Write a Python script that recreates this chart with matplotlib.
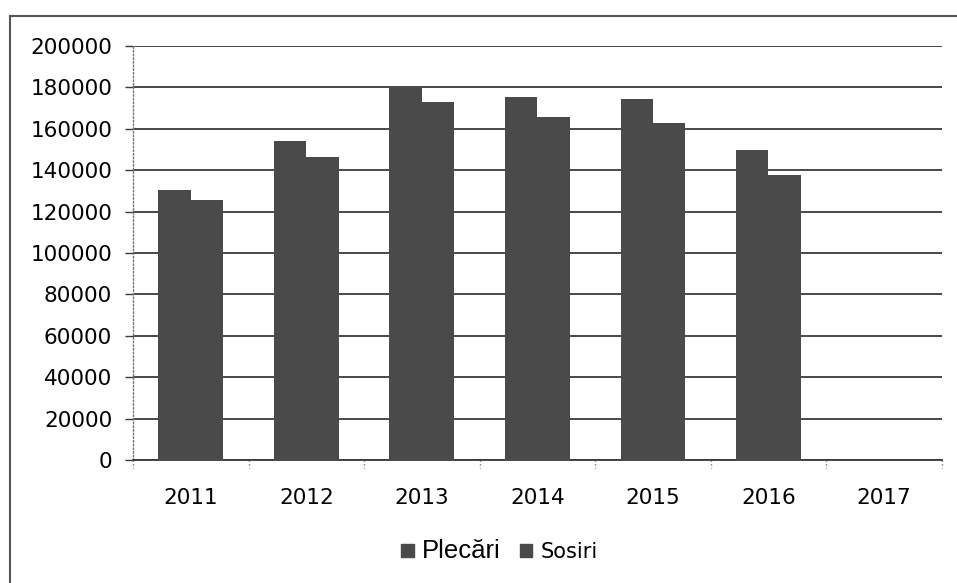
import numpy as np
import matplotlib.pyplot as plt
from matplotlib.lines import Line2D
from matplotlib.patches import Patch

years = ["2011", "2012", "2013", "2014", "2015", "2016", "2017"]
plecari = [130500, 154000, 180000, 175500, 174500, 150000, np.nan]
sosiri = [125500, 146500, 173000, 165500, 163000, 137500, np.nan]

bar_color = "#4a4a4a"
grid_color = "#3a3a3a"

fig = plt.figure(figsize=(9.57, 5.83), dpi=100)
ax = fig.add_axes([0.139, 0.211, 0.845, 0.710])

x = np.arange(len(years))
w = 0.28
ax.bar(x - w / 2, plecari, w, color=bar_color, zorder=3)
ax.bar(x + w / 2, sosiri, w, color=bar_color, zorder=3)

ax.set_xlim(-0.5, len(years) - 0.5)
ax.set_ylim(0, 200000)
ax.set_yticks(np.arange(0, 200001, 20000))
ax.set_xticks(x)
ax.set_xticklabels(years)

# gridlines reach a little left of the axis, like the tick marks
ax.yaxis.grid(True, color=grid_color, linewidth=1.3, zorder=0)
ax.tick_params(axis="y", length=6, width=1.0, color=grid_color, labelsize=15.5, pad=9)
ax.tick_params(axis="x", length=0, labelsize=15.5, pad=20)

# category boundary ticks on the x axis
for b in np.arange(-0.5, len(years), 1.0):
    ax.plot([b, b], [0, -0.02], transform=ax.get_xaxis_transform(), color="#777777",
            linewidth=1, linestyle=":", clip_on=False)

for side in ["top", "right"]:
    ax.spines[side].set_visible(False)
ax.spines["left"].set_color("#777777")
ax.spines["left"].set_linestyle(":")
ax.spines["left"].set_linewidth(1.0)
ax.spines["bottom"].set_color(grid_color)
ax.spines["bottom"].set_linewidth(1.3)

# legend
handles = [Patch(color=bar_color), Patch(color=bar_color)]
leg = fig.legend(handles, ["Plecări", "Sosiri"], loc="center", bbox_to_anchor=(0.522, 0.055),
                 ncol=2, frameon=False, handlelength=0.6, handleheight=0.6,
                 handletextpad=0.4, columnspacing=0.9, fontsize=15)
leg.get_texts()[0].set_family("Liberation Sans")
leg.get_texts()[0].set_fontsize(18.5)

# outer chart border (top and left visible in the scan)
fig.add_artist(Line2D([0.0104, 1.0], [0.9726, 0.9726], color="#555555", linewidth=1.5))
fig.add_artist(Line2D([0.0104, 0.0104], [0.0, 0.9726], color="#555555", linewidth=1.5))

fig.savefig("out.png", dpi=100)
